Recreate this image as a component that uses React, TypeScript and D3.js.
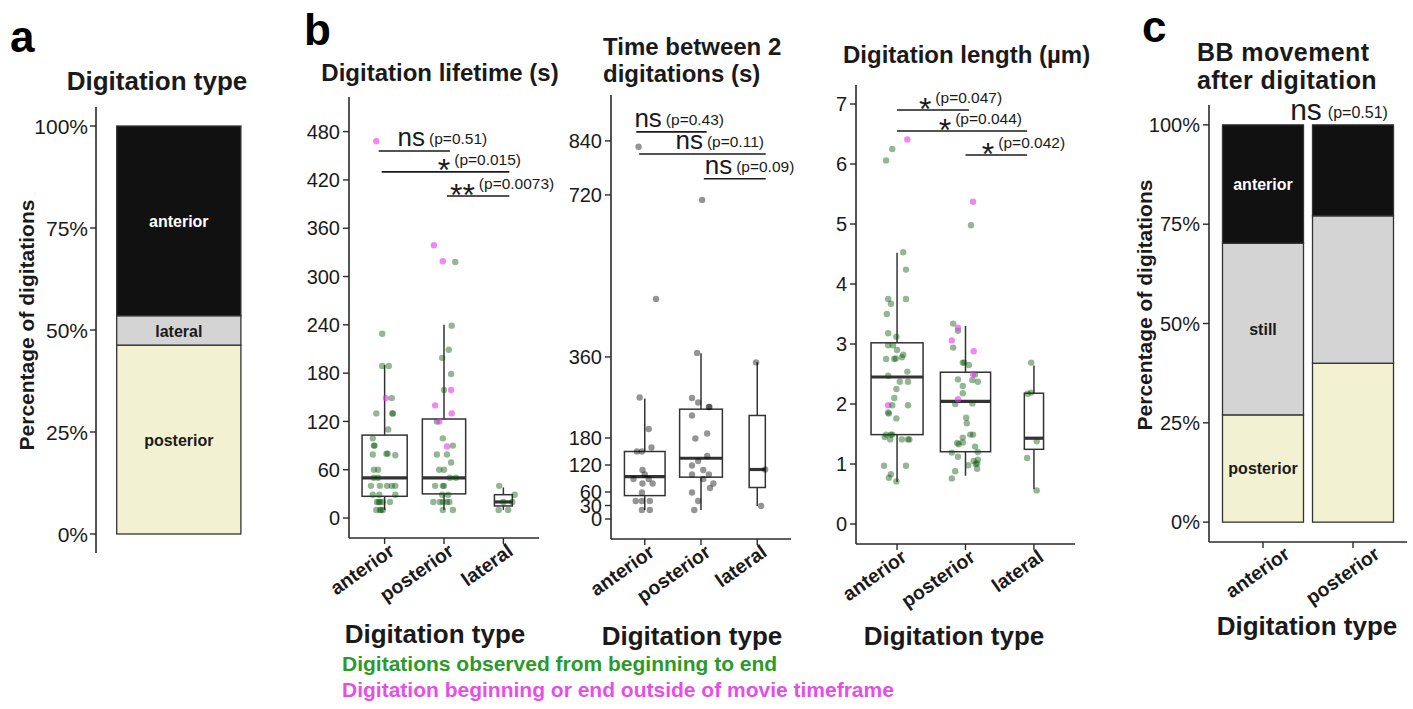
import React from 'react';
import * as d3 from 'd3';

const FONT = '"Liberation Sans", Arial, Helvetica, sans-serif';
const INK = '#1a1a1a';
const AXIS = '#2b2b2b';

// ---------- a : share of digitation types
const typeOrder = ['posterior', 'lateral', 'anterior'];
const typeShare = [0.463, 0.072, 0.465];
const pctTicks = [0, 0.25, 0.5, 0.75, 1];

// ---------- b : per-digitation measures
const digTypes = ['anterior', 'posterior', 'lateral'];

// [value, jitter (category units), kind]  g = observed start to end, p = outside timeframe, k = grey
type Pt = [number, number, string];

const lifetimeAnterior: Pt[] = [
  [468, -0.14, 'p'], [229, -0.04, 'g'], [189, -0.04, 'g'], [189, 0.07, 'g'], [149, 0.02, 'p'],
  [149, 0.12, 'g'], [130, -0.14, 'g'], [130, 0.14, 'g'], [130, 0.13, 'g'], [110, 0.06, 'g'],
  [99, -0.2, 'g'], [90, -0.18, 'g'], [90, -0.17, 'g'], [79, -0.2, 'g'], [80, 0.03, 'g'],
  [80, 0.05, 'g'], [78, 0.18, 'g'], [60, -0.18, 'g'], [60, -0.11, 'g'], [50, -0.18, 'g'],
  [50, -0.11, 'g'], [40, -0.23, 'g'], [40, -0.08, 'g'], [40, 0.04, 'g'], [40, 0.12, 'g'],
  [40, 0.18, 'g'], [29, -0.2, 'g'], [29, -0.09, 'g'], [29, 0.18, 'g'], [20, -0.13, 'g'],
  [20, -0.08, 'g'], [20, -0.03, 'g'], [20, 0.09, 'g'], [20, -0.1, 'g'], [10, -0.14, 'g'],
  [10, -0.08, 'g'], [10, -0.03, 'g'], [10, -0.06, 'g'],
];
const lifetimePosterior: Pt[] = [
  [318, 0.19, 'g'], [239, 0.13, 'g'], [209, 0.08, 'g'], [199, -0.03, 'g'], [179, 0.12, 'g'],
  [159, 0, 'g'], [120, -0.12, 'g'], [99, -0.02, 'g'], [90, 0.15, 'g'], [79, -0.12, 'g'],
  [79, 0.05, 'g'], [69, 0.12, 'g'], [60, -0.08, 'g'], [60, 0, 'g'], [50, 0.1, 'g'],
  [50, 0.2, 'g'], [40, -0.15, 'g'], [40, -0.02, 'g'], [40, 0, 'g'], [29, -0.03, 'g'],
  [29, 0.07, 'g'], [20, -0.18, 'g'], [20, -0.07, 'g'], [20, -0.02, 'g'], [20, 0.05, 'g'],
  [20, 0.09, 'g'], [10, -0.02, 'g'], [10, 0.15, 'g'],
  [339, -0.17, 'p'], [319, -0.02, 'p'], [159, 0.12, 'p'], [140, -0.15, 'p'], [130, 0.13, 'p'],
  [120, -0.08, 'p'], [89, 0.05, 'p'],
];
const lifetimeLateral: Pt[] = [
  [40, -0.07, 'g'], [29, 0.19, 'g'], [20, 0.15, 'g'], [20, 0, 'g'], [10, -0.08, 'g'], [10, 0.08, 'g'],
];
// [lower whisker, q1, median, q3, upper whisker]
const lifetimeBoxes = [[10, 27, 50, 103, 190], [10, 30, 50, 123, 240], [10, 15, 20, 29, 38]];
const lifetimeTicks = [0, 60, 120, 180, 240, 300, 360, 420, 480];
// [xmin, xmax, y, label x, symbol, p]
const lifetimeSig: [number, number, number, number, string, string][] = [
  [0.9, 2.1, 456, 1.45, 'ns', '(p=0.51)'],
  [0.95, 3.1, 430, 2.0, '*', '(p=0.015)'],
  [2.05, 3.1, 400, 2.31, '**', '(p=0.0073)'],
];

const gapAnterior: Pt[] = [
  [827, -0.11, 'k'], [489, 0.2, 'k'], [270, -0.09, 'k'], [200, 0.07, 'k'], [159, 0.12, 'k'],
  [150, -0.14, 'k'], [150, -0.05, 'k'], [109, -0.04, 'k'], [99, 0, 'k'], [89, -0.2, 'k'],
  [89, 0.07, 'k'], [79, -0.04, 'k'], [79, 0.14, 'k'], [59, -0.05, 'k'], [40, -0.16, 'k'],
  [40, -0.05, 'k'], [40, 0.09, 'k'], [20, -0.05, 'k'], [20, 0.09, 'k'],
];
const gapPosterior: Pt[] = [
  [709, 0.02, 'k'], [369, -0.07, 'k'], [269, -0.16, 'k'], [259, -0.05, 'k'], [249, 0.14, 'k'],
  [249, 0.15, 'k'], [230, -0.16, 'k'], [190, 0.11, 'k'], [179, -0.1, 'k'], [140, 0.11, 'k'],
  [129, -0.05, 'k'], [119, -0.16, 'k'], [109, 0.04, 'k'], [99, -0.16, 'k'], [99, 0.14, 'k'],
  [89, 0.04, 'k'], [79, 0.22, 'k'], [69, 0.16, 'k'], [59, -0.16, 'k'], [40, -0.05, 'k'],
  [20, -0.12, 'k'],
];
const gapLateral: Pt[] = [[348, -0.02, 'k'], [110, 0.14, 'k'], [29, 0.07, 'k']];
const gapBoxes = [[20, 52, 94, 150, 268], [20, 93, 135, 244, 368], [29, 70, 110, 230, 348]];
const gapTicks = [0, 30, 60, 120, 180, 360, 720, 840];
const gapSig: [number, number, number, number, string, string][] = [
  [0.85, 2.1, 860, 1.06, 'ns', '(p=0.43)'],
  [0.9, 3.15, 811, 1.79, 'ns', '(p=0.11)'],
  [2.05, 3.15, 756, 2.31, 'ns', '(p=0.09)'],
];

const lengthAnterior: Pt[] = [
  [6.06, -0.16, 'g'], [6.25, -0.07, 'g'], [6.41, 0.15, 'p'], [4.53, 0.09, 'g'], [4.24, 0.13, 'g'],
  [3.75, -0.13, 'g'], [3.75, 0.13, 'g'], [3.67, -0.09, 'g'], [3.5, -0.15, 'g'], [3.18, -0.13, 'g'],
  [3.12, -0.01, 'g'], [2.98, -0.13, 'g'], [2.98, -0.06, 'g'], [2.9, 0, 'g'], [2.82, 0.09, 'g'],
  [2.75, -0.16, 'g'], [2.75, -0.04, 'g'], [2.76, -0.02, 'g'], [2.78, 0.07, 'g'], [2.47, -0.13, 'g'],
  [2.54, 0.15, 'g'], [2.37, 0.04, 'g'], [2.37, 0.16, 'g'], [2.25, -0.01, 'g'], [2.1, -0.04, 'g'],
  [1.98, -0.13, 'p'], [1.98, -0.07, 'g'], [1.98, 0.16, 'g'], [1.86, -0.13, 'g'], [1.84, -0.12, 'g'],
  [1.76, -0.01, 'g'], [1.49, -0.16, 'g'], [1.49, -0.09, 'g'], [1.49, -0.07, 'g'], [1.45, -0.18, 'g'],
  [1.41, -0.1, 'g'], [1.41, 0.07, 'g'], [1.41, 0.16, 'g'], [1.41, 0.18, 'g'], [0.97, -0.19, 'g'],
  [0.97, 0.13, 'g'], [0.83, -0.09, 'g'], [0.77, -0.12, 'g'], [0.71, -0.01, 'g'],
];
const lengthPosterior: Pt[] = [
  [4.98, 0.08, 'g'], [3.34, -0.18, 'g'], [3.22, -0.11, 'g'], [2.94, -0.18, 'g'], [2.69, -0.04, 'g'],
  [2.69, -0.02, 'g'], [2.65, 0.05, 'g'], [2.49, 0.14, 'g'], [2.41, -0.11, 'g'], [2.4, 0.1, 'g'],
  [2.37, 0.18, 'g'], [2.3, -0.04, 'g'], [2.18, -0.04, 'g'], [2.0, -0.15, 'g'], [2.01, 0.1, 'g'],
  [1.77, 0.01, 'g'], [1.68, 0.02, 'g'], [1.49, 0.07, 'g'], [1.49, 0.11, 'g'], [1.44, -0.04, 'g'],
  [1.35, -0.12, 'g'], [1.33, -0.1, 'g'], [1.36, -0.04, 'g'], [1.29, 0.14, 'g'], [1.2, 0.18, 'g'],
  [1.19, -0.2, 'g'], [1.12, -0.11, 'g'], [1.07, 0.18, 'g'], [1.05, 0.12, 'g'], [1.01, 0.17, 'g'],
  [1.0, 0.15, 'g'], [0.98, 0.04, 'g'], [0.92, 0.17, 'g'], [0.88, -0.15, 'g'], [0.76, -0.2, 'g'],
  [5.37, 0.11, 'p'], [3.27, -0.11, 'p'], [3.06, -0.2, 'p'], [2.88, 0.12, 'p'], [2.5, 0.11, 'p'],
  [2.08, -0.11, 'p'],
];
const lengthLateral: Pt[] = [
  [2.69, -0.04, 'g'], [2.17, -0.09, 'g'], [2.19, -0.04, 'g'], [1.38, 0.04, 'g'], [1.1, -0.1, 'g'], [0.56, 0.04, 'g'],
];
const lengthBoxes = [[0.705, 1.49, 2.45, 3.02, 4.52], [0.805, 1.205, 2.045, 2.53, 3.3], [0.58, 1.245, 1.43, 2.18, 2.64]];
const lengthTicks = [0, 1, 2, 3, 4, 5, 6, 7];
const lengthSig: [number, number, number, number, string, string][] = [
  [1, 2.05, 6.9, 1.41, '*', '(p=0.047)'],
  [1, 2.9, 6.55, 1.7, '*', '(p=0.044)'],
  [2, 2.9, 6.15, 2.33, '*', '(p=0.042)'],
];

// ---------- c : BB movement after digitation
const bbGroups = ['anterior', 'posterior'];
const bbMoves = ['posterior', 'still', 'anterior'];
const bbAnterior = [0.27, 0.432, 0.298];
const bbPosterior = [0.4, 0.371, 0.229];
const bbTest = ['ns', '(p=0.51)'];

const fills: Record<string, string> = { posterior: '#f2f2d3', lateral: '#d4d4d4', still: '#d4d4d4', anterior: '#111111' };
const dot: Record<string, [string, number]> = { g: ['#005200', 0.42], p: ['#e838e8', 0.6], k: ['#000000', 0.42] };

type Frame = { left: number; right: number; bottom: number; top: number };

function symWidth(sym: string, size: number) {
  return sym === 'ns' ? 1.056 * size : 0.389 * size * sym.length;
}

function Bracket({ x, y, b, nsSize = 26 }: { x: any; y: any; b: [number, number, number, number, string, string]; nsSize?: number }) {
  const [x1, x2, v, lx, sym, p] = b;
  const ly = y(v);
  const isNs = sym === 'ns';
  const size = isNs ? nsSize : 32;
  const w = symWidth(sym, size);
  const sx = x(lx) - w / 2;
  return (
    <g>
      <line x1={x(x1)} x2={x(x2)} y1={ly} y2={ly} stroke={INK} strokeWidth={1.6} />
      <text x={sx} y={isNs ? ly - 5 : ly + 9.5} fontSize={size} fill={INK} fontFamily={FONT}>{sym}</text>
      <text x={sx + w + 4} y={ly - 7} fontSize={15.5} fill={INK} fontFamily={FONT}>{p}</text>
    </g>
  );
}

function BoxPanel({ frame, domain, ticks, boxes, groups, sig }: {
  frame: Frame; domain: [number, number]; ticks: number[]; boxes: number[][]; groups: Pt[][];
  sig: [number, number, number, number, string, string][];
}) {
  const x = d3.scaleLinear().domain([0.4, 3.6]).range([frame.left, frame.right]);
  const y = d3.scaleLinear().domain(domain).range([frame.bottom, frame.top]);
  const nMax = d3.max(groups, (g) => g.length) as number;
  return (
    <g fontFamily={FONT}>
      {boxes.map((s, i) => {
        const cx = x(i + 1);
        const hw = ((0.76 * Math.sqrt(groups[i].length / nMax)) / 2) * (x(1) - x(0));
        const [lo, q1, med, q3, hi] = s;
        return (
          <g key={i} stroke="#333" fill="none">
            <line x1={cx} x2={cx} y1={y(lo)} y2={y(q1)} strokeWidth={1.5} />
            <line x1={cx} x2={cx} y1={y(q3)} y2={y(hi)} strokeWidth={1.5} />
            <rect x={cx - hw} width={hw * 2} y={y(q3)} height={y(q1) - y(q3)} strokeWidth={1.5} />
            <line x1={cx - hw} x2={cx + hw} y1={y(med)} y2={y(med)} strokeWidth={3.2} />
          </g>
        );
      })}
      {groups.map((g, i) =>
        g.map((d, j) => (
          <circle key={`${i}-${j}`} cx={x(i + 1 + d[1])} cy={y(d[0])} r={3.2} fill={dot[d[2]][0]} fillOpacity={dot[d[2]][1]} />
        ))
      )}
      {sig.map((b, i) => <Bracket key={i} x={x} y={y} b={b} />)}
      <line x1={frame.left} x2={frame.left} y1={frame.top} y2={frame.bottom} stroke={AXIS} strokeWidth={1.6} />
      <line x1={frame.left} x2={frame.right} y1={frame.bottom} y2={frame.bottom} stroke={AXIS} strokeWidth={1.6} />
      {ticks.map((t) => (
        <g key={t}>
          <line x1={frame.left - 6} x2={frame.left} y1={y(t)} y2={y(t)} stroke={AXIS} strokeWidth={1.4} />
          <text x={frame.left - 9} y={y(t)} dy="0.36em" textAnchor="end" fontSize={20} fill={INK}>{t}</text>
        </g>
      ))}
      {digTypes.map((c, i) => (
        <g key={c}>
          <line x1={x(i + 1)} x2={x(i + 1)} y1={frame.bottom} y2={frame.bottom + 6} stroke={AXIS} strokeWidth={1.4} />
          <text transform={`translate(${x(i + 1) + 11},${frame.bottom + 16}) rotate(-35)`} textAnchor="end"
            fontSize={19.5} fontWeight="bold" fill={INK}>{c}</text>
        </g>
      ))}
    </g>
  );
}

function TypePanel() {
  const y = d3.scaleLinear().domain([-0.0466, 1.0466]).range([553, 107]);
  const x = d3.scaleLinear().domain([0.4, 1.6]).range([96, 261.6]);
  const ends = d3.cumsum(typeShare);
  const hw = 0.45 * (x(1) - x(0));
  return (
    <g fontFamily={FONT}>
      {typeOrder.map((t, i) => {
        const y0 = i === 0 ? 0 : ends[i - 1];
        const y1 = ends[i];
        return (
          <g key={t}>
            <rect x={x(1) - hw} width={hw * 2} y={y(y1)} height={y(y0) - y(y1)} fill={fills[t]} stroke="#333" strokeWidth={1.3} />
            <text x={x(1)} y={y((y0 + y1) / 2)} dy="0.4em" textAnchor="middle" fontSize={16} fontWeight="bold"
              fill={t === 'anterior' ? '#fff' : INK}>{t}</text>
          </g>
        );
      })}
      <line x1={96} x2={96} y1={107} y2={553} stroke={AXIS} strokeWidth={1.6} />
      {pctTicks.map((t) => (
        <g key={t}>
          <line x1={90} x2={96} y1={y(t)} y2={y(t)} stroke={AXIS} strokeWidth={1.4} />
          <text x={88} y={y(t)} dy="0.36em" textAnchor="end" fontSize={21} fill={INK}>{d3.format('.0%')(t)}</text>
        </g>
      ))}
      <text transform="translate(34,325) rotate(-90)" textAnchor="middle" fontSize={21} fontWeight="bold" fill={INK}>
        Percentage of digitations
      </text>
      <text x={157} y={90} textAnchor="middle" fontSize={26} fontWeight="bold" fill={INK}>Digitation type</text>
    </g>
  );
}

function MovementPanel() {
  const y = d3.scaleLinear().domain([-0.05, 1.05]).range([542, 105]);
  const x = d3.scaleLinear().domain([0.4, 2.6]).range([1209, 1407]);
  const hw = 0.45 * (x(1) - x(0));
  const shares = [bbAnterior, bbPosterior];
  const nsW = symWidth(bbTest[0], 30);
  return (
    <g fontFamily={FONT}>
      {bbGroups.map((g, gi) => {
        const ends = d3.cumsum(shares[gi]);
        return bbMoves.map((m, i) => {
          const y0 = i === 0 ? 0 : ends[i - 1];
          const y1 = ends[i];
          return (
            <g key={`${g}-${m}`}>
              <rect x={x(gi + 1) - hw} width={hw * 2} y={y(y1)} height={y(y0) - y(y1)} fill={fills[m]} stroke="#333" strokeWidth={1.3} />
              {gi === 0 && (
                <text x={x(1)} y={y((y0 + y1) / 2)} dy="0.36em" textAnchor="middle" fontSize={16} fontWeight="bold"
                  fill={m === 'anterior' ? '#fff' : INK}>{m}</text>
              )}
            </g>
          );
        });
      })}
      <text x={x(1.478) - nsW / 2} y={y(1) - 5} fontSize={30} fill={INK}>{bbTest[0]}</text>
      <text x={x(1.478) + nsW / 2 + 6} y={y(1) - 7} fontSize={16} fill={INK}>{bbTest[1]}</text>
      <line x1={1209} x2={1209} y1={105} y2={542} stroke={AXIS} strokeWidth={1.6} />
      <line x1={1209} x2={1407} y1={542} y2={542} stroke={AXIS} strokeWidth={1.6} />
      {pctTicks.map((t) => (
        <g key={t}>
          <line x1={1203} x2={1209} y1={y(t)} y2={y(t)} stroke={AXIS} strokeWidth={1.4} />
          <text x={1200} y={y(t)} dy="0.36em" textAnchor="end" fontSize={20} fill={INK}>{d3.format('.0%')(t)}</text>
        </g>
      ))}
      {bbGroups.map((g, i) => (
        <g key={g}>
          <line x1={x(i + 1)} x2={x(i + 1)} y1={542} y2={548} stroke={AXIS} strokeWidth={1.4} />
          <text transform={`translate(${x(i + 1) + 28},${557}) rotate(-35)`} textAnchor="end" fontSize={19.5}
            fontWeight="bold" fill={INK}>{g}</text>
        </g>
      ))}
      <text transform="translate(1152,305) rotate(-90)" textAnchor="middle" fontSize={21} fontWeight="bold" fill={INK}>
        Percentage of digitations
      </text>
      <text x={1197} y={61} fontSize={25} letterSpacing={0.4} fontWeight="bold" fill={INK}>BB movement</text>
      <text x={1197} y={89} fontSize={25} letterSpacing={0.4} fontWeight="bold" fill={INK}>after digitation</text>
      <text x={1307} y={635} textAnchor="middle" fontSize={26} fontWeight="bold" fill={INK}>Digitation type</text>
    </g>
  );
}

export default function App() {
  return (
    <svg width={1413} height={709} style={{ position: 'absolute', left: 0, top: 0, background: '#fff' }} fontFamily={FONT}>
      <rect width={1413} height={709} fill="#fff" />
      <text x={10} y={52} fontSize={44} fontWeight="bold" fill="#000">a</text>
      <text x={304} y={45} fontSize={44} fontWeight="bold" fill="#000">b</text>
      <text x={1142} y={42} fontSize={44} fontWeight="bold" fill="#000">c</text>

      <TypePanel />

      <BoxPanel frame={{ left: 349, right: 539, bottom: 538, top: 97 }} domain={[-24.8, 523]} ticks={lifetimeTicks}
        boxes={lifetimeBoxes} groups={[lifetimeAnterior, lifetimePosterior, lifetimeLateral]} sig={lifetimeSig} />
      <BoxPanel frame={{ left: 611, right: 791, bottom: 539, top: 95 }} domain={[-44.4, 942]} ticks={gapTicks}
        boxes={gapBoxes} groups={[gapAnterior, gapPosterior, gapLateral]} sig={gapSig} />
      <BoxPanel frame={{ left: 856, right: 1075, bottom: 544, top: 85 }} domain={[-0.333, 7.317]} ticks={lengthTicks}
        boxes={lengthBoxes} groups={[lengthAnterior, lengthPosterior, lengthLateral]} sig={lengthSig} />

      <g fontFamily={FONT} fontWeight="bold" fill={INK}>
        <text x={440} y={81} textAnchor="middle" fontSize={24}>Digitation lifetime (s)</text>
        <text x={603} y={55} fontSize={24}>Time between 2</text>
        <text x={603} y={82} fontSize={24}>digitations (s)</text>
        <text x={843} y={63} fontSize={24}>Digitation length (µm)</text>
        <text x={435} y={643} textAnchor="middle" fontSize={26}>Digitation type</text>
        <text x={692} y={645} textAnchor="middle" fontSize={26}>Digitation type</text>
        <text x={954} y={645} textAnchor="middle" fontSize={26}>Digitation type</text>
        <text x={342} y={671} fontSize={21} fill="#2a9a2a">Digitations observed from beginning to end</text>
        <text x={342} y={697} fontSize={21} fill="#e64fe6">Digitation beginning or end outside of movie timeframe</text>
      </g>

      <MovementPanel />
    </svg>
  );
}
